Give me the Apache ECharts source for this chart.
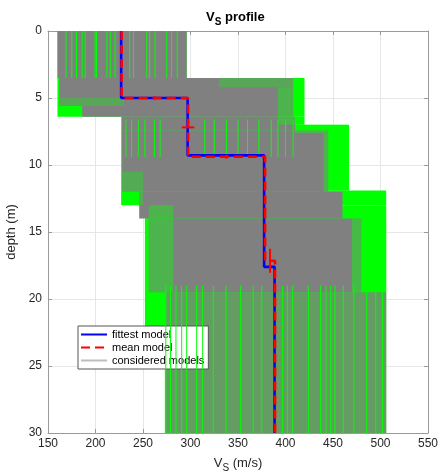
<!DOCTYPE html>
<html><head><meta charset="utf-8">
<script src="https://cdn.jsdelivr.net/npm/echarts@6/dist/echarts.min.js"></script>
<style>html,body{margin:0;padding:0;background:#fff}#c{width:442px;height:474px}</style>
</head><body><div id="c"></div>
<script>
// ---- envelope of considered models (green) ----
const envTop    = [0,   3.5, 6.4, 7.0, 11.9, 13.0, 23.5];
const envBottom = [3.5, 6.4, 7.0, 11.9, 13.0, 23.5, 30];
const envVmin   = [160, 160, 227, 227, 227, 252, 273];
const envVmax   = [296, 420, 420, 467, 506, 506, 506];
// ---- dense core of considered models (gray) ----
const coreTop    = [0,   3.5, 5.6, 6.4, 7.4, 12.0, 14.0, 19.5];
const coreBottom = [3.5, 5.6, 6.4, 7.4, 12.0, 14.0, 19.5, 30];
const coreVmin   = [160, 162, 186, 228, 228, 246, 256, 274];
const coreVmax   = [296, 408, 408, 410, 445, 460, 480, 506];
// ---- partially covered zones (green/gray mix) ----
const mixTop    = [3.5, 4.2, 7.0, 7.6, 14.0, 13.0, 10.5, 19.5, 5.0];
const mixBottom = [4.2, 7.0, 7.6, 12.0, 19.5, 19.5, 13.0, 30, 5.6];
const mixVmin   = [330, 392, 410, 440, 470, 256, 228, 274, 162];
const mixVmax   = [418, 418, 465, 465, 506, 282, 250, 506, 230];
const mixAlpha  = [0.3, 0.4, 0.5, 0.4, 0.45, 0.4, 0.35, 0.22, 0.3];
// ---- visible single model traces (green streaks) ----
const topStreakV = [169,175,180,186,189,199.5,201,212,215.5,220.5,236,240,254,257,262.6,275,280,286];
const midStreakV = [232,238,245,252,262,268,315,325,338,350,360,372,385,392,400,408];
const lowStreakV = [274,279,284.7,290.7,296,306.5,312.8,324,337.4,352.8,366,375,397,402,407.6,424,437,442.6,447.6,452,460.8,472,485.5,495,502];
// ---- fittest model ----
const fitDepth = [0, 5.0, 9.28, 17.6, 30];
const fitV     = [227, 297, 377.5, 388.5];
// ---- mean model ----
const meanDepth = [0, 5.0, 9.38, 17.15, 30];
const meanV     = [227.5, 297.5, 378.5, 389];
const meanVerr  = [1, 6.5, 1.5];        // velocity std (layers 1-3)
const meanHerr  = [0.12, 0.15, 0.9];    // interface depth std

const FONT = 'Liberation Sans';
const GREEN = '#00ff00', GRAY = '#808080';

function stepPath(depths, vs){
  const out = [];
  vs.forEach((v,i)=>{ out.push([v, depths[i]]); out.push([v, depths[i+1]]); });
  return out;
}
function rectSeries(name, top, bottom, vmin, vmax, fills, z){
  const data = top.map((t,i)=>[vmin[i], vmax[i], t, bottom[i], i]);
  return {type:'custom', name, data, z, silent:true, encode:{x:[0,1], y:[2,3]},
    renderItem:(p, api)=>{
      const a = api.coord([api.value(0), api.value(2)]);
      const b = api.coord([api.value(1), api.value(3)]);
      const fill = Array.isArray(fills) ? fills[api.value(4)] : fills;
      return {type:'rect', shape:{x:a[0], y:a[1], width:b[0]-a[0], height:b[1]-a[1]}, style:{fill}};
    }};
}
function segSeries(name, segs, color, width, z){
  return {type:'custom', name, data:segs, z, silent:true, encode:{x:[0,2], y:[1,3]},
    renderItem:(p, api)=>{
      const a = api.coord([api.value(0), api.value(1)]);
      const b = api.coord([api.value(2), api.value(3)]);
      return {type:'line', shape:{x1:a[0], y1:a[1], x2:b[0], y2:b[1]}, style:{stroke:color, lineWidth:width}};
    }};
}
const streakSegs = [].concat(
  topStreakV.map(v=>[v, 0, v, 3.5]),
  midStreakV.map(v=>[v, 6.6, v, 9.4]),
  lowStreakV.map(v=>[v, 19.0, v, 30])
);
const errSegs = [];
meanVerr.forEach((e,i)=>{ const d=(meanDepth[i]+meanDepth[i+1])/2; errSegs.push([meanV[i]-e, d, meanV[i]+e, d]); });
meanHerr.forEach((e,i)=>{ const v=(meanV[i]+meanV[i+1])/2, d=meanDepth[i+1]; errSegs.push([v, d-e, v, d+e]); });

const axisCol = '#9a9a9a';
const subRich = (size, weight, color)=>({
  a:{fontSize:size, fontWeight:weight, fontFamily:FONT, color, lineHeight:20, verticalAlign:'middle'},
  b:{fontSize:size-3, fontWeight:weight, fontFamily:FONT, color, lineHeight:12, verticalAlign:'bottom'}
});
const chart = echarts.init(document.getElementById('c'), null, {renderer:'canvas'});
chart.setOption({
  animation:false,
  textStyle:{fontFamily:FONT},
  title:{text:'{a|V}{b|S}{a| profile}', left:201, top:2, textStyle:{rich:subRich(13,'bold','#000')}},
  grid:{left:48, top:31, width:380, height:402, show:false, outerBoundsMode:'none', containLabel:false},
  legend:{data:['fittest model','mean model','considered models'], orient:'vertical', left:78, top:326,
    backgroundColor:'#fff', borderColor:'#555', borderWidth:1, padding:[3,4,3,2], itemGap:2,
    itemWidth:26, itemHeight:11, itemStyle:{opacity:0},
    textStyle:{fontSize:11, color:'#000', fontFamily:FONT}},
  xAxis:[{type:'value', min:150, max:550, interval:50, position:'bottom',
      axisLine:{show:true, onZero:false, lineStyle:{color:axisCol}},
      axisTick:{show:true, inside:true, length:4, lineStyle:{color:axisCol}},
      axisLabel:{color:'#262626', fontSize:12, margin:5, fontFamily:FONT},
      splitLine:{show:true, lineStyle:{color:'#e6e6e6'}},
      name:'{a|V}{b|S}{a| (m/s)}', nameLocation:'middle', nameGap:20,
      nameTextStyle:{rich:subRich(13,'normal','#262626')}},
    {type:'value', min:150, max:550, interval:50, position:'top',
      axisLine:{show:true, onZero:false, lineStyle:{color:axisCol}},
      axisTick:{show:true, inside:true, length:4, lineStyle:{color:axisCol}},
      axisLabel:{show:false}, splitLine:{show:false}}],
  yAxis:[{type:'value', min:0, max:30, interval:5, inverse:true, position:'left',
      axisLine:{show:true, onZero:false, lineStyle:{color:axisCol}},
      axisTick:{show:true, inside:true, length:4, lineStyle:{color:axisCol}},
      axisLabel:{color:'#262626', fontSize:12, margin:6, fontFamily:FONT},
      splitLine:{show:true, lineStyle:{color:'#e6e6e6'}},
      name:'depth (m)', nameLocation:'middle', nameGap:24, nameRotate:90,
      nameTextStyle:{fontSize:13, color:'#262626', fontFamily:FONT}},
    {type:'value', min:0, max:30, interval:5, inverse:true, position:'right',
      axisLine:{show:true, onZero:false, lineStyle:{color:axisCol}},
      axisTick:{show:true, inside:true, length:4, lineStyle:{color:axisCol}},
      axisLabel:{show:false}, splitLine:{show:false}}],
  series:[
    rectSeries('envelope', envTop, envBottom, envVmin, envVmax, GREEN, 1),
    rectSeries('core', coreTop, coreBottom, coreVmin, coreVmax, GRAY, 2),
    rectSeries('mix', mixTop, mixBottom, mixVmin, mixVmax, mixAlpha.map(a=>'rgba(0,255,0,'+a+')'), 3),
    segSeries('streaks', streakSegs, GREEN, 1, 4),
    {type:'line', name:'considered models', data:[], symbol:'none', lineStyle:{color:'#bdbdbd', width:1}, itemStyle:{color:'#bdbdbd'}},
    {type:'line', name:'fittest model', data:stepPath(fitDepth, fitV), symbol:'none', z:5,
      lineStyle:{color:'#0000ff', width:2.6}, itemStyle:{color:'#0000ff'}},
    {type:'line', name:'mean model', data:stepPath(meanDepth, meanV), symbol:'none', z:6,
      lineStyle:{color:'#ff0000', width:2.6, type:[9,5]}, itemStyle:{color:'#ff0000'}},
    segSeries('errorbars', errSegs, '#ff0000', 2, 7)
  ]
});
</script></body></html>
